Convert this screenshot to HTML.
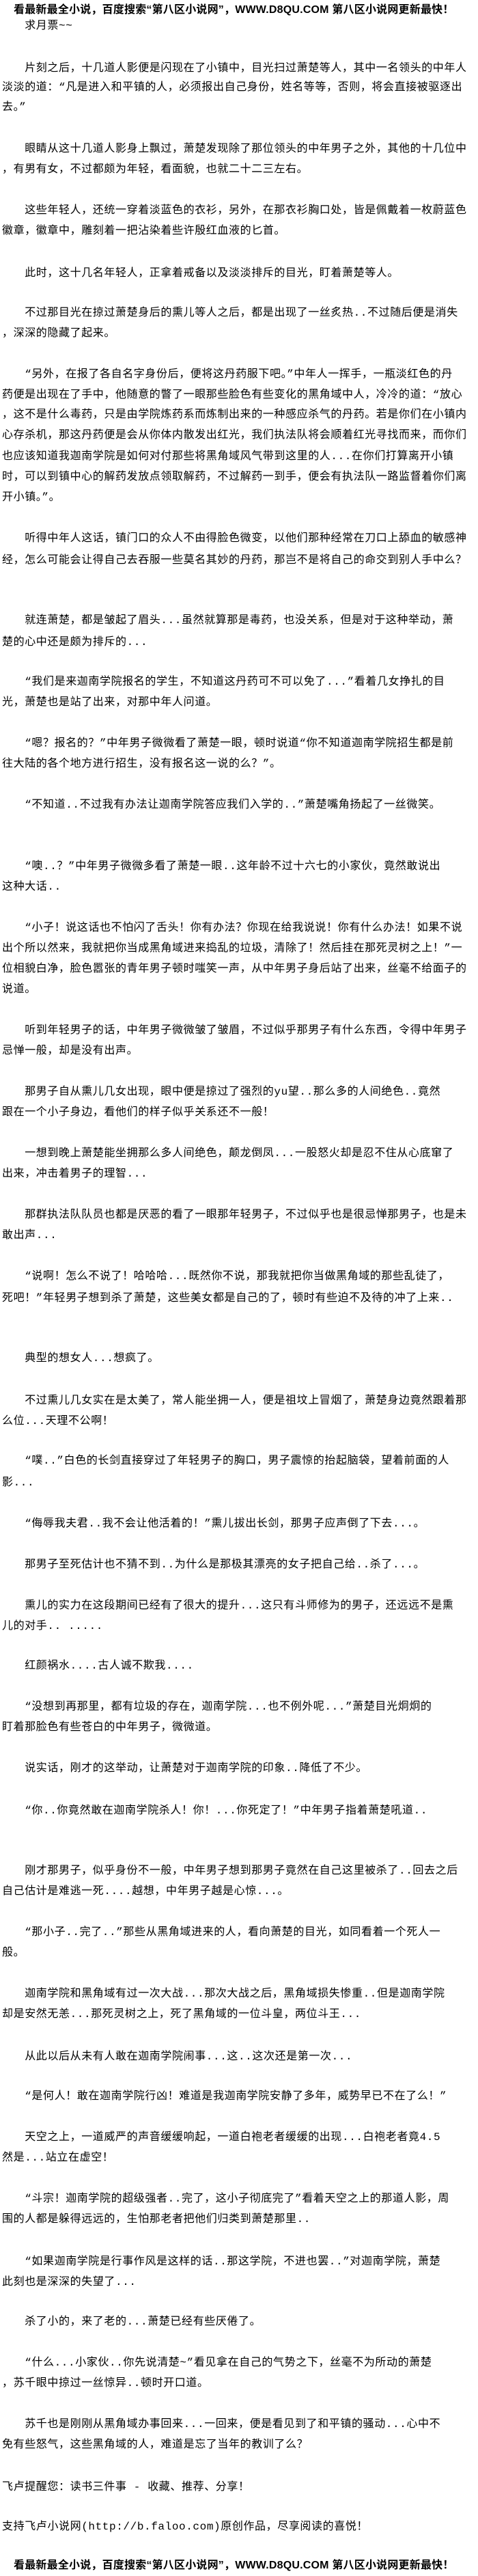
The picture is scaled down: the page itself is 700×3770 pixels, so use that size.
<!DOCTYPE html>
<html><head><meta charset="utf-8">
<style>
html,body{margin:0;padding:0;background:#fff;}
body{width:700px;height:3770px;position:relative;overflow:hidden;}
.l{position:absolute;left:3px;height:20px;line-height:20px;font-size:16px;letter-spacing:0.6px;white-space:nowrap;color:#000;
font-family:"Liberation Mono","Noto Sans CJK SC",monospace;}
.h{font-weight:bold;left:20px;letter-spacing:0.2px;font-family:"Liberation Sans","Noto Sans CJK SC",sans-serif;}
</style></head><body>
<div class="l h" style="top:5px">看最新最全小说，百度搜索“第八区小说网”，WWW.D8QU.COM 第八区小说网更新最快！</div>
<div class="l" style="top:28px">　　求月票~~</div>
<div class="l" style="top:90px">　　片刻之后，十几道人影便是闪现在了小镇中，目光扫过萧楚等人，其中一名领头的中年人</div>
<div class="l" style="top:118px">淡淡的道：“凡是进入和平镇的人，必须报出自己身份，姓名等等，否则，将会直接被驱逐出</div>
<div class="l" style="top:147px">去。”</div>
<div class="l" style="top:208px">　　眼睛从这十几道人影身上飘过，萧楚发现除了那位领头的中年男子之外，其他的十几位中</div>
<div class="l" style="top:238px">，有男有女，不过都颇为年轻，看面貌，也就二十二三左右。</div>
<div class="l" style="top:298px">　　这些年轻人，还统一穿着淡蓝色的衣衫，另外，在那衣衫胸口处，皆是佩戴着一枚蔚蓝色</div>
<div class="l" style="top:328px">徽章，徽章中，雕刻着一把沾染着些许殷红血液的匕首。</div>
<div class="l" style="top:390px">　　此时，这十几名年轻人，正拿着戒备以及淡淡排斥的目光，盯着萧楚等人。</div>
<div class="l" style="top:448px">　　不过那目光在掠过萧楚身后的熏儿等人之后，都是出现了一丝炙热..不过随后便是消失</div>
<div class="l" style="top:478px">，深深的隐藏了起来。</div>
<div class="l" style="top:538px">　　“另外，在报了各自名字身份后，便将这丹药服下吧。”中年人一挥手，一瓶淡红色的丹</div>
<div class="l" style="top:568px">药便是出现在了手中，他随意的瞥了一眼那些脸色有些变化的黑角域中人，冷冷的道：“放心</div>
<div class="l" style="top:597px">，这不是什么毒药，只是由学院炼药系而炼制出来的一种感应杀气的丹药。若是你们在小镇内</div>
<div class="l" style="top:627px">心存杀机，那这丹药便是会从你体内散发出红光，我们执法队将会顺着红光寻找而来，而你们</div>
<div class="l" style="top:658px">也应该知道我迦南学院是如何对付那些将黑角域风气带到这里的人...在你们打算离开小镇</div>
<div class="l" style="top:688px">时，可以到镇中心的解药发放点领取解药，不过解药一到手，便会有执法队一路监督着你们离</div>
<div class="l" style="top:718px">开小镇。”。</div>
<div class="l" style="top:778px">　　听得中年人这话，镇门口的众人不由得脸色微变，以他们那种经常在刀口上舔血的敏感神</div>
<div class="l" style="top:810px">经，怎么可能会让得自己去吞服一些莫名其妙的丹药，那岂不是将自己的命交到别人手中么？</div>
<div class="l" style="top:898px">　　就连萧楚，都是皱起了眉头...虽然就算那是毒药，也没关系，但是对于这种举动，萧</div>
<div class="l" style="top:930px">楚的心中还是颇为排斥的...</div>
<div class="l" style="top:988px">　　“我们是来迦南学院报名的学生，不知道这丹药可不可以免了...”看着几女挣扎的目</div>
<div class="l" style="top:1018px">光，萧楚也是站了出来，对那中年人问道。</div>
<div class="l" style="top:1078px">　　“嗯？报名的？”中年男子微微看了萧楚一眼，顿时说道“你不知道迦南学院招生都是前</div>
<div class="l" style="top:1108px">往大陆的各个地方进行招生，没有报名这一说的么？”。</div>
<div class="l" style="top:1168px">　　“不知道..不过我有办法让迦南学院答应我们入学的..”萧楚嘴角扬起了一丝微笑。</div>
<div class="l" style="top:1258px">　　“噢..？”中年男子微微多看了萧楚一眼..这年龄不过十六七的小家伙，竟然敢说出</div>
<div class="l" style="top:1288px">这种大话..</div>
<div class="l" style="top:1348px">　　“小子！说这话也不怕闪了舌头！你有办法？你现在给我说说！你有什么办法！如果不说</div>
<div class="l" style="top:1378px">出个所以然来，我就把你当成黑角域进来捣乱的垃圾，清除了！然后挂在那死灵树之上！”一</div>
<div class="l" style="top:1408px">位相貌白净，脸色嚣张的青年男子顿时嗤笑一声，从中年男子身后站了出来，丝毫不给面子的</div>
<div class="l" style="top:1438px">说道。</div>
<div class="l" style="top:1498px">　　听到年轻男子的话，中年男子微微皱了皱眉，不过似乎那男子有什么东西，令得中年男子</div>
<div class="l" style="top:1528px">忌惮一般，却是没有出声。</div>
<div class="l" style="top:1588px">　　那男子自从熏儿几女出现，眼中便是掠过了强烈的yu望..那么多的人间绝色..竟然</div>
<div class="l" style="top:1618px">跟在一个小子身边，看他们的样子似乎关系还不一般！</div>
<div class="l" style="top:1678px">　　一想到晚上萧楚能坐拥那么多人间绝色，颠龙倒凤...一股怒火却是忍不住从心底窜了</div>
<div class="l" style="top:1708px">出来，冲击着男子的理智...</div>
<div class="l" style="top:1768px">　　那群执法队队员也都是厌恶的看了一眼那年轻男子，不过似乎也是很忌惮那男子，也是未</div>
<div class="l" style="top:1798px">敢出声...</div>
<div class="l" style="top:1858px">　　“说啊！怎么不说了！哈哈哈...既然你不说，那我就把你当做黑角域的那些乱徒了，</div>
<div class="l" style="top:1890px">死吧！”年轻男子想到杀了萧楚，这些美女都是自己的了，顿时有些迫不及待的冲了上来..</div>
<div class="l" style="top:1978px">　　典型的想女人...想疯了。</div>
<div class="l" style="top:2040px">　　不过熏儿几女实在是太美了，常人能坐拥一人，便是祖坟上冒烟了，萧楚身边竟然跟着那</div>
<div class="l" style="top:2070px">么位...天理不公啊！</div>
<div class="l" style="top:2128px">　　“噗..”白色的长剑直接穿过了年轻男子的胸口，男子震惊的抬起脑袋，望着前面的人</div>
<div class="l" style="top:2160px">影...</div>
<div class="l" style="top:2220px">　　“侮辱我夫君..我不会让他活着的！”熏儿拔出长剑，那男子应声倒了下去...。</div>
<div class="l" style="top:2280px">　　那男子至死估计也不猜不到..为什么是那极其漂亮的女子把自己给..杀了...。</div>
<div class="l" style="top:2340px">　　熏儿的实力在这段期间已经有了很大的提升...这只有斗师修为的男子，还远远不是熏</div>
<div class="l" style="top:2370px">儿的对手.. .....</div>
<div class="l" style="top:2428px">　　红颜祸水....古人诚不欺我....</div>
<div class="l" style="top:2488px">　　“没想到再那里，都有垃圾的存在，迦南学院...也不例外呢...”萧楚目光炯炯的</div>
<div class="l" style="top:2518px">盯着那脸色有些苍白的中年男子，微微道。</div>
<div class="l" style="top:2578px">　　说实话，刚才的这举动，让萧楚对于迦南学院的印象..降低了不少。</div>
<div class="l" style="top:2640px">　　“你..你竟然敢在迦南学院杀人！你！...你死定了！”中年男子指着萧楚吼道..</div>
<div class="l" style="top:2728px">　　刚才那男子，似乎身份不一般，中年男子想到那男子竟然在自己这里被杀了..回去之后</div>
<div class="l" style="top:2758px">自己估计是难逃一死....越想，中年男子越是心惊...。</div>
<div class="l" style="top:2818px">　　“那小子..完了..”那些从黑角域进来的人，看向萧楚的目光，如同看着一个死人一</div>
<div class="l" style="top:2848px">般。</div>
<div class="l" style="top:2908px">　　迦南学院和黑角域有过一次大战...那次大战之后，黑角域损失惨重..但是迦南学院</div>
<div class="l" style="top:2938px">却是安然无恙...那死灵树之上，死了黑角域的一位斗皇，两位斗王...</div>
<div class="l" style="top:3000px">　　从此以后从未有人敢在迦南学院闹事...这..这次还是第一次...</div>
<div class="l" style="top:3058px">　　“是何人！敢在迦南学院行凶！难道是我迦南学院安静了多年，威势早已不在了么！”</div>
<div class="l" style="top:3118px">　　天空之上，一道威严的声音缓缓响起，一道白袍老者缓缓的出现...白袍老者竟4.5</div>
<div class="l" style="top:3148px">然是...站立在虚空！</div>
<div class="l" style="top:3208px">　　“斗宗！迦南学院的超级强者..完了，这小子彻底完了”看着天空之上的那道人影，周</div>
<div class="l" style="top:3238px">围的人都是躲得远远的，生怕那老者把他们归类到萧楚那里..</div>
<div class="l" style="top:3300px">　　“如果迦南学院是行事作风是这样的话..那这学院，不进也罢..”对迦南学院，萧楚</div>
<div class="l" style="top:3330px">此刻也是深深的失望了...</div>
<div class="l" style="top:3388px">　　杀了小的，来了老的...萧楚已经有些厌倦了。</div>
<div class="l" style="top:3448px">　　“什么...小家伙..你先说清楚~”看见拿在自己的气势之下，丝毫不为所动的萧楚</div>
<div class="l" style="top:3478px">，苏千眼中掠过一丝惊异..顿时开口道。</div>
<div class="l" style="top:3538px">　　苏千也是刚刚从黑角域办事回来...一回来，便是看见到了和平镇的骚动...心中不</div>
<div class="l" style="top:3568px">免有些怒气，这些黑角域的人，难道是忘了当年的教训了么？</div>
<div class="l" style="top:3630px">飞卢提醒您：读书三件事 - 收藏、推荐、分享！</div>
<div class="l" style="top:3688px">支持飞卢小说网(http://b.faloo.com)原创作品，尽享阅读的喜悦！</div>
<div class="l h" style="top:3745px">看最新最全小说，百度搜索“第八区小说网”，WWW.D8QU.COM 第八区小说网更新最快！</div>
</body></html>
